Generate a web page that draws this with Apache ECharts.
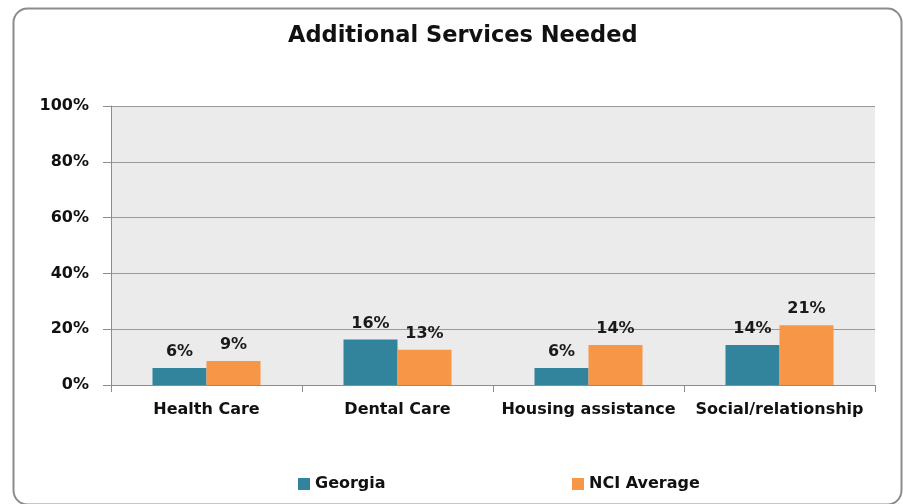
<!DOCTYPE html>
<html>
<head>
<meta charset="utf-8">
<script src="https://cdn.jsdelivr.net/npm/echarts@6/dist/echarts.min.js"></script>
<style>
html,body{margin:0;padding:0;background:#fff;}
#chart{width:903px;height:504px;}
</style>
</head>
<body>
<div id="chart"></div>
<script>
var categories = ['Health Care', 'Dental Care', 'Housing assistance', 'Social/relationship'];
var georgia = [6.1, 16.3, 6.1, 14.3];
var nciAverage = [8.6, 12.6, 14.3, 21.4];
var yTicks = [0, 20, 40, 60, 80, 100];

var fontFam = '"DejaVu Sans", sans-serif';
var chart = echarts.init(document.getElementById('chart'));

var labelStyle = {
    show: true,
    position: 'top',
    distance: 8,
    fontFamily: fontFam,
    fontWeight: 'bold',
    fontSize: 16,
    color: '#1a1a1a',
    formatter: function (p) { return Math.round(p.value) + '%'; }
};

var option = {
    animation: false,
    graphic: [
        {
            type: 'rect',
            left: 11, top: 6,
            shape: { width: 888, height: 496, r: 14 },
            style: { fill: 'none', stroke: '#8c8c8c', lineWidth: 2 },
            z: -10
        }
    ],
    title: {
        text: 'Additional Services Needed',
        left: 283,
        top: 20,
        textStyle: {
            fontFamily: fontFam,
            fontWeight: 'bold',
            fontSize: 22.5,
            color: '#111'
        }
    },
    legend: [
        {
            data: ['Georgia'],
            left: 293, top: 471,
            icon: 'rect',
            itemWidth: 12, itemHeight: 12, itemGap: 6,
            textStyle: { fontFamily: fontFam, fontWeight: 'bold', fontSize: 16, color: '#111' }
        },
        {
            data: ['NCI Average'],
            left: 567, top: 471,
            icon: 'rect',
            itemWidth: 12, itemHeight: 12, itemGap: 6,
            textStyle: { fontFamily: fontFam, fontWeight: 'bold', fontSize: 16, color: '#111' }
        }
    ],
    grid: {
        left: 111, top: 106, width: 764, height: 279,
        show: true,
        backgroundColor: '#ebebeb',
        borderWidth: 0,
        containLabel: false
    },
    xAxis: {
        type: 'category',
        data: categories,
        axisLine: { lineStyle: { color: '#8c8c8c', width: 1 } },
        axisTick: { show: true, length: 7, lineStyle: { color: '#8c8c8c' } },
        axisLabel: {
            margin: 17,
            fontFamily: fontFam,
            fontWeight: 'bold',
            fontSize: 16,
            color: '#111',
            interval: 0
        }
    },
    yAxis: {
        type: 'value',
        min: yTicks[0],
        max: yTicks[yTicks.length - 1],
        interval: 20,
        axisLine: { show: true, lineStyle: { color: '#8c8c8c', width: 1 } },
        axisTick: { show: true, length: 8, lineStyle: { color: '#8c8c8c' } },
        splitLine: { show: true, lineStyle: { color: '#9a9a9a', width: 1 } },
        axisLabel: {
            margin: 22,
            fontFamily: fontFam,
            fontWeight: 'bold',
            fontSize: 16,
            color: '#111',
            formatter: '{value}%'
        }
    },
    series: [
        {
            name: 'Georgia',
            type: 'bar',
            data: georgia,
            barWidth: 54,
            barGap: '0%',
            itemStyle: { color: '#31849b' },
            label: labelStyle
        },
        {
            name: 'NCI Average',
            type: 'bar',
            data: nciAverage,
            barWidth: 54,
            barGap: '0%',
            itemStyle: { color: '#f79646' },
            label: labelStyle
        }
    ]
};
chart.setOption(option);
</script>
</body>
</html>
